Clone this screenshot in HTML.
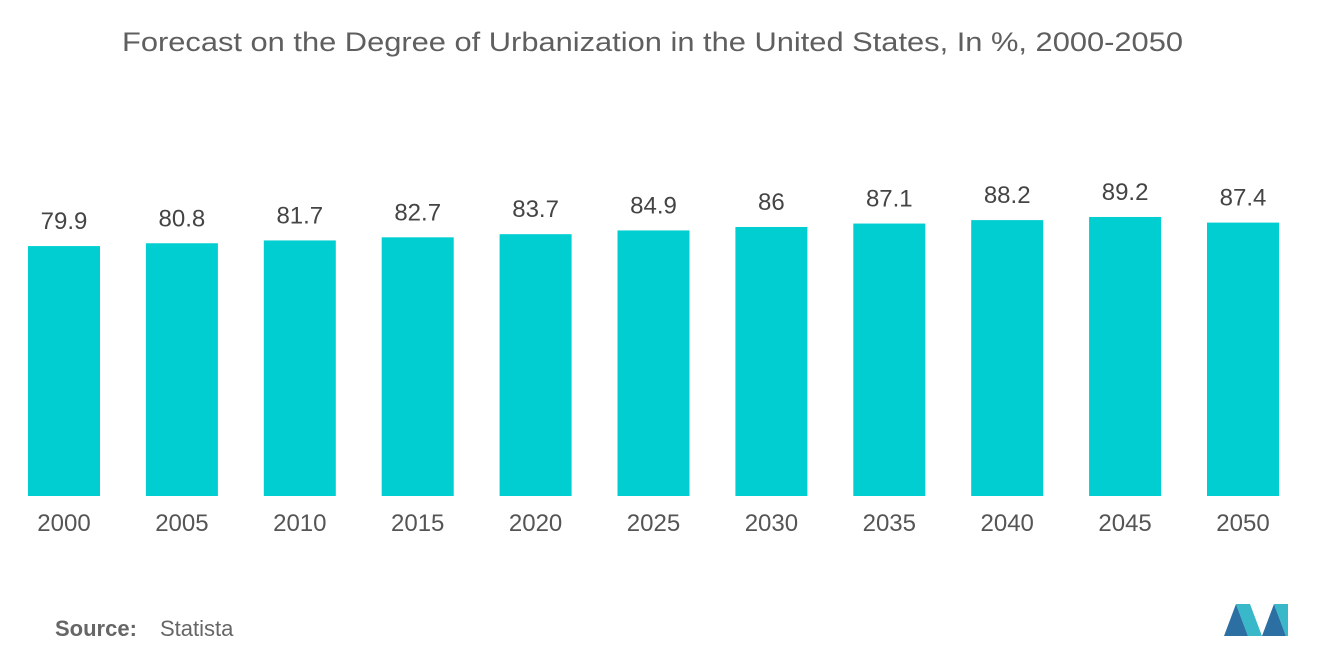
<!DOCTYPE html>
<html><head><meta charset="utf-8"><style>
body{margin:0;background:#fff;font-family:"Liberation Sans",sans-serif;}
</style></head><body>
<svg width="1320" height="665" viewBox="0 0 1320 665" xmlns="http://www.w3.org/2000/svg">
<text x="122" y="51" font-size="27" fill="#5f5f5f" textLength="1061" lengthAdjust="spacingAndGlyphs">Forecast on the Degree of Urbanization in the United States, In %, 2000-2050</text>
<g id="bars"></g>
<text x="55" y="636" font-size="22" fill="#666" font-weight="bold">Source:</text>
<text x="160" y="636" font-size="22" fill="#666">Statista</text>
<g>
<polygon points="1224,636 1236,604 1248,636" fill="#2c6fa3"/>
<polygon points="1236,604 1250,604 1262,636 1248,636" fill="#39b8c9"/>
<polygon points="1262,636 1274,604 1286,636" fill="#2c6fa3"/>
<polygon points="1274,604 1288,604 1288,636 1286,636" fill="#39b8c9"/>
</g>
</svg>
<script>
const categories=["2000","2005","2010","2015","2020","2025","2030","2035","2040","2045","2050"];
const values=[79.9,80.8,81.7,82.7,83.7,84.9,86,87.1,88.2,89.2,87.4];
const valueLabels=["79.9","80.8","81.7","82.7","83.7","84.9","86","87.1","88.2","89.2","87.4"];
const NS="http://www.w3.org/2000/svg";
const g=document.getElementById('bars');
const x0=28,step=117.9,bw=72,base=496,k=3.128;
const xs=i=>x0+i*step;
const ys=v=>base-v*k;
categories.forEach((c,i)=>{
  const r=document.createElementNS(NS,'rect');
  r.setAttribute('x',xs(i));r.setAttribute('y',ys(values[i]));
  r.setAttribute('width',bw);r.setAttribute('height',base-ys(values[i]));
  r.setAttribute('fill','#00ced1');
  
  
  g.appendChild(r);
  const t=document.createElementNS(NS,'text');
  t.setAttribute('x',xs(i)+bw/2);t.setAttribute('y',ys(values[i])-17);
  t.setAttribute('text-anchor','middle');t.setAttribute('font-size','24');t.setAttribute('fill','#444');
  t.textContent=valueLabels[i];
  
  
  g.appendChild(t);
  const l=document.createElementNS(NS,'text');
  l.setAttribute('x',xs(i)+bw/2);l.setAttribute('y',531);
  l.setAttribute('text-anchor','middle');l.setAttribute('font-size','24');l.setAttribute('fill','#555');
  l.textContent=c;
  
  
  g.appendChild(l);
});
</script>
</body></html>
